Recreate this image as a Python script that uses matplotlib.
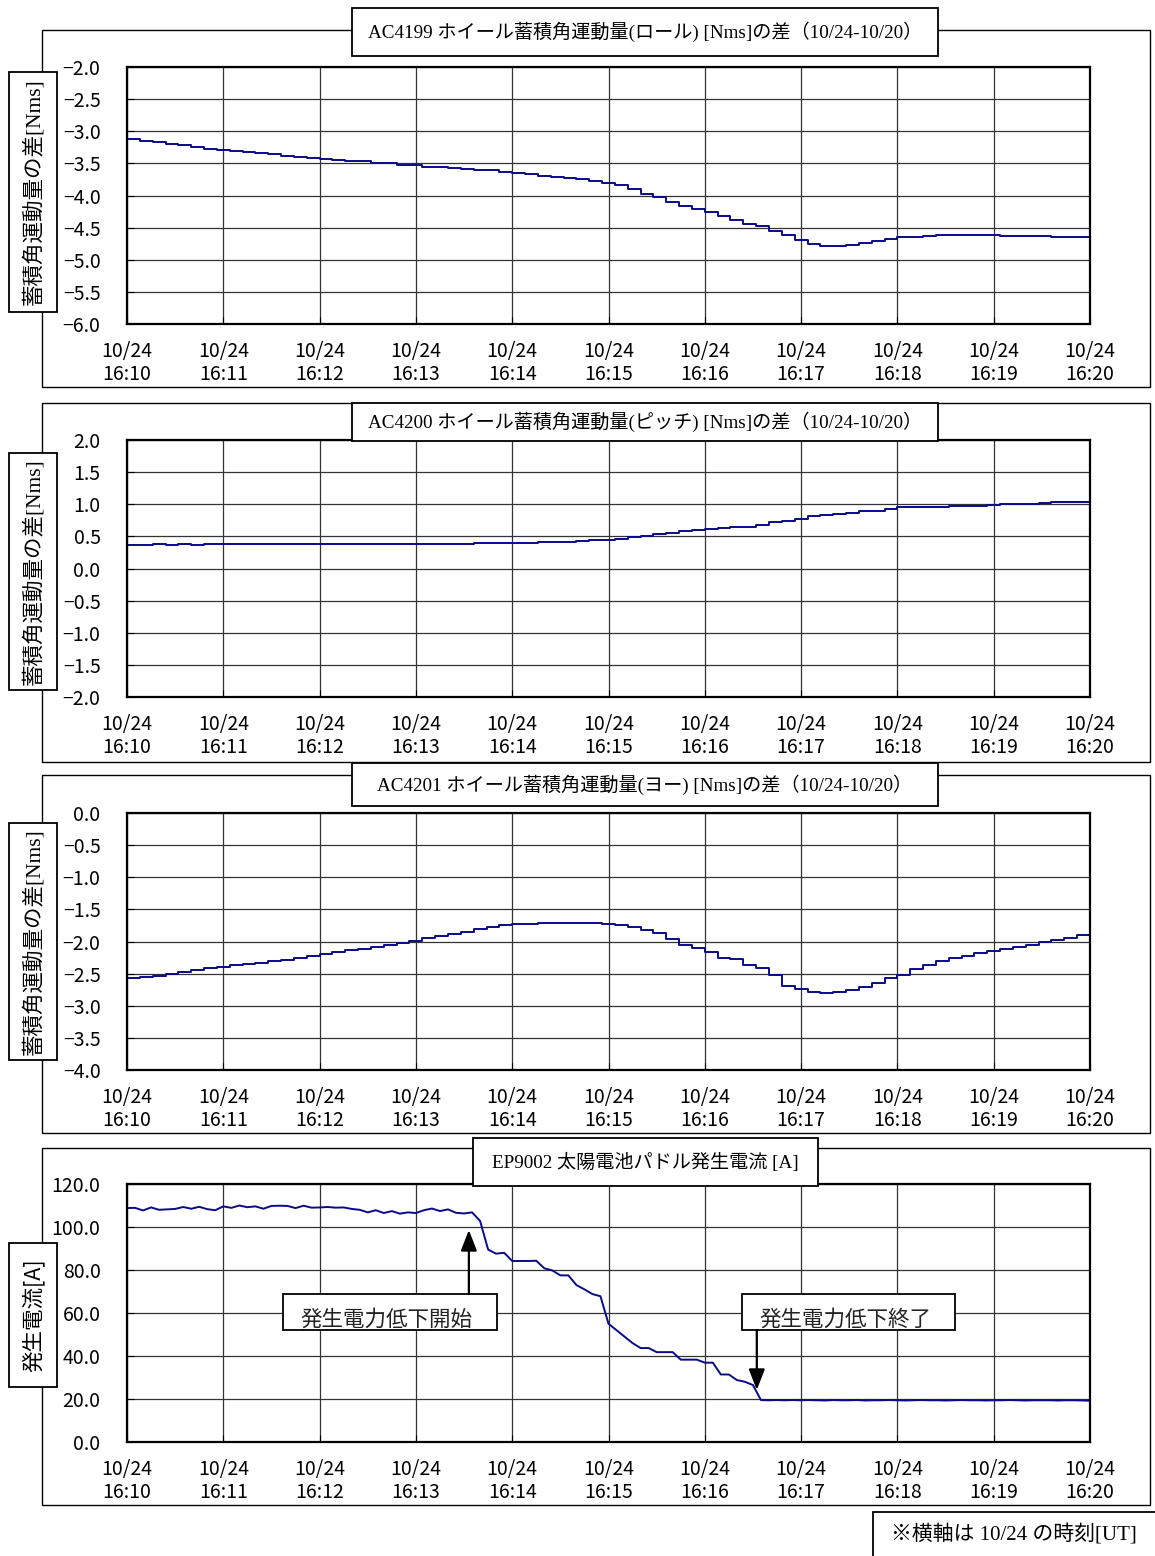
import matplotlib
matplotlib.use('Agg')
import matplotlib.pyplot as plt
import numpy as np
from matplotlib.patches import Rectangle
from matplotlib.ticker import FuncFormatter

plt.rcParams['font.family'] = ['Noto Sans CJK JP', 'DejaVu Sans']
SERIF = ['Liberation Serif', 'Noto Sans CJK JP']

# ---- data (minutes after 16:10 UT, 10/24) ----
step_s = 8          # wheel momentum telemetry step [s]
cur_s = 5           # current telemetry step [s]

roll = [-3.12, -3.15, -3.17, -3.20, -3.22, -3.24, -3.27, -3.29,
        -3.31, -3.33, -3.34, -3.36, -3.38, -3.40, -3.41, -3.43,
        -3.44, -3.46, -3.47, -3.49, -3.50, -3.52, -3.53,
        -3.55, -3.56, -3.57, -3.58, -3.60, -3.61, -3.63, -3.65,
        -3.67, -3.69, -3.71, -3.73, -3.75, -3.77, -3.80,
        -3.84, -3.90, -3.97, -4.03, -4.10, -4.16, -4.21, -4.26,
        -4.32, -4.38, -4.44, -4.48, -4.55, -4.62, -4.70,
        -4.76, -4.78, -4.78, -4.77, -4.74, -4.71, -4.68, -4.65,
        -4.64, -4.63, -4.62, -4.62, -4.62, -4.62, -4.62,
        -4.63, -4.63, -4.63, -4.63, -4.64, -4.64, -4.64, -4.65]

pitch = [0.37, 0.37, 0.38, 0.37, 0.38, 0.37, 0.38, 0.38,
         0.38, 0.38, 0.38, 0.38, 0.38, 0.38, 0.38, 0.38,
         0.38, 0.38, 0.38, 0.38, 0.38, 0.38, 0.38,
         0.38, 0.38, 0.38, 0.38, 0.39, 0.39, 0.39, 0.40,
         0.40, 0.41, 0.41, 0.42, 0.43, 0.44, 0.45,
         0.46, 0.49, 0.51, 0.53, 0.56, 0.58, 0.60, 0.62,
         0.63, 0.64, 0.65, 0.67, 0.72, 0.74, 0.77,
         0.81, 0.83, 0.85, 0.87, 0.89, 0.90, 0.92, 0.95,
         0.95, 0.96, 0.96, 0.97, 0.98, 0.98, 0.99,
         1.00, 1.01, 1.01, 1.02, 1.03, 1.03, 1.04, 1.05]

yaw = [-2.57, -2.55, -2.53, -2.51, -2.48, -2.45, -2.42, -2.39,
       -2.37, -2.35, -2.33, -2.31, -2.29, -2.26, -2.23, -2.20,
       -2.17, -2.14, -2.11, -2.08, -2.05, -2.02, -1.99,
       -1.95, -1.92, -1.88, -1.85, -1.80, -1.77, -1.75, -1.73,
       -1.72, -1.71, -1.71, -1.71, -1.71, -1.71, -1.72,
       -1.75, -1.78, -1.82, -1.86, -1.96, -2.05, -2.10, -2.17,
       -2.25, -2.28, -2.37, -2.42, -2.52, -2.69, -2.74,
       -2.78, -2.80, -2.79, -2.76, -2.71, -2.64, -2.57, -2.52,
       -2.43, -2.37, -2.31, -2.26, -2.22, -2.18, -2.15,
       -2.12, -2.08, -2.05, -2.01, -1.98, -1.94, -1.90, -1.87]

current = [108.8, 108.9, 107.7, 109.1, 108.0, 108.2, 108.4, 109.3, 108.5, 109.4, 108.3, 107.8,
           109.6, 108.9, 110.0, 109.2, 109.6, 108.5, 109.8, 109.9, 109.8, 108.8, 109.9, 109.0,
           109.1, 109.3, 109.0, 109.1, 108.4, 108.0, 106.8, 107.8, 106.5, 107.4, 106.2, 106.8,
           106.5, 107.8, 108.6, 107.4, 108.2, 106.6, 106.3, 106.8, 102.8, 89.5, 87.6, 88.0,
           84.2, 84.2, 84.2, 84.3, 80.8, 79.8, 77.5, 77.5, 73.0, 71.0, 68.8, 67.8,
           55.0, 52.0, 49.0, 46.0, 43.7, 43.7, 41.8, 41.8, 41.8, 38.3, 38.3, 38.3,
           36.9, 36.9, 31.4, 31.4, 28.8, 28.0, 26.5, 19.5, 19.4, 19.5, 19.4, 19.5,
           19.4, 19.5, 19.4, 19.3, 19.5, 19.4, 19.4, 19.5, 19.3, 19.4, 19.4, 19.5,
           19.4, 19.3, 19.4, 19.5, 19.4, 19.4, 19.3, 19.4, 19.5, 19.4, 19.4, 19.3,
           19.4, 19.4, 19.5, 19.4, 19.3, 19.4, 19.4, 19.4, 19.3, 19.4, 19.4, 19.3,
           19.2]

t_wheel = np.arange(len(roll)) * step_s / 60.0
t_cur = np.arange(len(current)) * cur_s / 60.0

xtick_min = list(range(11))
xtick_lab = ['10/24\n16:%02d' % (10 + m) for m in xtick_min]

titles = ['AC4199 ホイール蓄積角運動量(ロール) [Nms]の差（10/24-10/20）',
          'AC4200 ホイール蓄積角運動量(ピッチ) [Nms]の差（10/24-10/20）',
          'AC4201 ホイール蓄積角運動量(ヨー) [Nms]の差（10/24-10/20）',
          'EP9002 太陽電池パドル発生電流 [A]']
ylabels = ['蓄積角運動量の差[Nms]'] * 3 + ['発生電流[A]']
ylims = [(-6.0, -2.0, 0.5), (-2.0, 2.0, 0.5), (-4.0, 0.0, 0.5), (0.0, 120.0, 20.0)]

# ---- layout in pixels ----
W, H = 1155, 1556
def fx(x):
    return x / W
def fy(y):
    return 1 - y / H

plot_tb = [(67, 324), (440, 697), (813, 1070), (1184, 1442)]
frame_tb = [(30, 387), (403, 762), (775, 1133), (1148, 1505)]
title_box = [(352, 938, 8, 56), (352, 938, 403, 441), (352, 938, 763, 806), (473, 818, 1138, 1186)]
ylab_box = [(72, 312), (453, 690), (823, 1060), (1243, 1387)]

fig = plt.figure(figsize=(W / 100, H / 100), dpi=100)

def box(x0, x1, y0, y1, lw=1.3, z=5):
    r = Rectangle((fx(x0), fy(y1)), fx(x1) - fx(x0), (y1 - y0) / H,
                  transform=fig.transFigure, facecolor='white', edgecolor='black',
                  linewidth=lw, zorder=z)
    fig.add_artist(r)

fmt = FuncFormatter(lambda v, p: ('%.1f' % v).replace('-', '\u2212'))

axes = []
for i in range(4):
    top, bot = plot_tb[i]
    ft, fb = frame_tb[i]
    r = Rectangle((fx(42), fy(fb)), fx(1150) - fx(42), (fb - ft) / H,
                  transform=fig.transFigure, facecolor='none', edgecolor='black',
                  linewidth=1.0, zorder=0)
    fig.add_artist(r)

    ax = fig.add_axes([fx(127), fy(bot), (1090 - 127) / W, (bot - top) / H])
    lo, hi, st = ylims[i]
    ax.set_ylim(lo, hi)
    ax.set_yticks(np.arange(lo, hi + st / 2, st))
    ax.yaxis.set_major_formatter(fmt)
    ax.set_xlim(0, 10)
    ax.set_xticks(xtick_min)
    ax.set_xticklabels(xtick_lab, linespacing=1.15)
    ax.grid(True, color='#333333', linewidth=0.9)
    ax.set_axisbelow(True)
    for s in ax.spines.values():
        s.set_linewidth(1.6)
    ax.tick_params(axis='y', direction='in', length=5, pad=19, labelsize=14)
    ax.tick_params(axis='x', direction='in', length=5, pad=12, labelsize=14)
    axes.append(ax)

    x0, x1, y0, y1 = title_box[i]
    box(x0, x1, y0, y1)
    fig.text(fx((x0 + x1) / 2), fy((y0 + y1) / 2), titles[i], family=SERIF,
             fontsize=13.8, ha='center', va='center', zorder=6)

    ly0, ly1 = ylab_box[i]
    box(9, 57, ly0, ly1)
    fam = SERIF if i < 3 else ['Noto Sans CJK JP']
    fig.text(fx(33), fy((ly0 + ly1) / 2), ylabels[i], family=fam, fontsize=15.5,
             rotation=90, ha='center', va='center', zorder=6)

navy = '#0a0a8a'
axes[0].plot(t_wheel, roll, color=navy, lw=1.4, drawstyle='steps-post')
axes[1].plot(t_wheel, pitch, color=navy, lw=1.4, drawstyle='steps-post')
axes[2].plot(t_wheel, yaw, color=navy, lw=1.4, drawstyle='steps-post')
axes[3].plot(t_cur, current, color=navy, lw=1.4)

# annotations on the current panel
ax = axes[3]
notes = [('発生電力低下開始', 1.62, 3.84, 2.69, 3.55, 98.6, 68.8),
         ('発生電力低下終了', 6.39, 8.60, 7.46, 6.54, 24.2, 52.1)]
for txt, bx0, bx1, tx, ax_x, tip, base in notes:
    ax.add_patch(Rectangle((bx0, 52.1), bx1 - bx0, 68.8 - 52.1, facecolor='white',
                           edgecolor='black', linewidth=1.3, zorder=4))
    ax.text(tx, 57.0, txt, fontsize=15.5, ha='center', va='center', zorder=5,
            color='#222222')
    ax.annotate('', xy=(ax_x, tip), xytext=(ax_x, base),
                arrowprops=dict(arrowstyle='-|>,head_length=0.9,head_width=0.35',
                                mutation_scale=14, color='black', lw=1.6,
                                shrinkA=0, shrinkB=0), zorder=5)

box(873, 1170, 1512, 1570)
fig.text(fx(1014), fy(1535), '※横軸は 10/24 の時刻[UT]', family=SERIF,
         fontsize=15, ha='center', va='center', zorder=6)

fig.savefig('out.png', dpi=100)
